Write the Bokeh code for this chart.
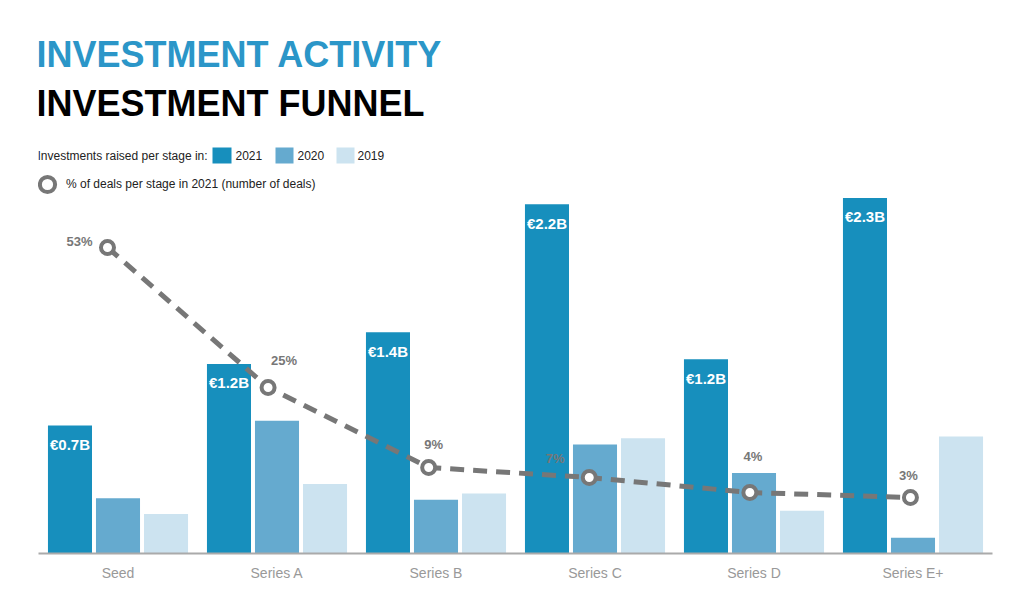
from bokeh.plotting import figure
from bokeh.models import (Range1d, ColumnDataSource, Label, FixedTicker,
                          BoxAnnotation, Legend, LegendItem)
from bokeh.transform import dodge
from bokeh.core.properties import value
from bokeh.embed import file_html
from bokeh.resources import INLINE

# ---------------- data ----------------
stages = ["Seed", "Series A", "Series B", "Series C", "Series D", "Series E+"]
inv_2021 = [0.81, 1.20, 1.40, 2.21, 1.23, 2.25]   # EUR billions
inv_2020 = [0.35, 0.84, 0.34, 0.69, 0.51, 0.10]
inv_2019 = [0.25, 0.44, 0.38, 0.73, 0.27, 0.74]
labels_2021 = ["€0.7B", "€1.2B", "€1.4B", "€2.2B", "€1.2B", "€2.3B"]
deal_share = [53, 25, 9, 7, 4, 3]                  # % of deals in 2021
deal_labels = ["53%", "25%", "9%", "7%", "4%", "3%"]

# label placement (style)
pct_dx = [-28, 16, 5, -34, 3, -2]
pct_dy = [-6, -27, -23, -19, -36, -22]

C21, C20, C19 = "#178fbd", "#65aacf", "#cce3f0"
GREY = "#777777"
FONT = "Liberation Sans"

n = len(stages)
centers = [i + 0.5 for i in range(n)]
src = ColumnDataSource(dict(pos=centers, v2021=inv_2021, v2020=inv_2020,
                            v2019=inv_2019, lab=labels_2021))
lsrc = ColumnDataSource(dict(idx=list(range(n)), share=deal_share,
                             lab=deal_labels, dx=pct_dx, dy=pct_dy))

p = figure(width=1016, height=595,
           x_range=Range1d(0, n), y_range=Range1d(0, 3.449),
           output_backend="svg", toolbar_location=None,
           y_axis_location=None,
           min_border_left=38, min_border_right=24,
           min_border_top=8, min_border_bottom=42)
p.extra_x_ranges = {"lx": Range1d(-0.4296, 5.511)}
p.extra_y_ranges = {"pct": Range1d(-8.2, 100.8)}

p.outline_line_color = None
p.xgrid.visible = False
p.ygrid.visible = False
p.background_fill_color = "white"
p.border_fill_color = "white"

W = 0.277
OFF = 0.302
p.vbar(x=dodge("pos", -OFF), top="v2021", width=W,
       source=src, fill_color=C21, line_color=None)
p.vbar(x=dodge("pos", 0), top="v2020", width=W,
       source=src, fill_color=C20, line_color=None)
p.vbar(x=dodge("pos", OFF), top="v2019", width=W,
       source=src, fill_color=C19, line_color=None)

p.text(x=dodge("pos", -OFF), y="v2021", text="lab",
       source=src, y_offset=19, text_align="center", text_baseline="middle",
       text_color="white", text_font_style="bold", text_font_size="15px",
       text_font=value(FONT))

p.line(x="idx", y="share", source=lsrc, x_range_name="lx", y_range_name="pct",
       line_color=GREY, line_width=5, line_dash="14 9")
pts = p.scatter(x="idx", y="share", source=lsrc, x_range_name="lx",
                y_range_name="pct", size=13, line_width=4,
                fill_color="white", line_color=GREY)
p.text(x="idx", y="share", text="lab", source=lsrc, x_range_name="lx",
       y_range_name="pct", x_offset="dx", y_offset="dy",
       text_align="center", text_baseline="middle", text_color=GREY,
       text_font_style="bold", text_font_size="13px", text_font=value(FONT))

ax = p.xaxis[0]
ax.ticker = FixedTicker(ticks=centers)
ax.major_label_overrides = {c: s for c, s in zip(centers, stages)}
ax.axis_line_color = "#aaaaaa"
ax.axis_line_width = 2
ax.major_tick_line_color = None
ax.minor_tick_line_color = None
ax.major_label_text_color = "#999999"
ax.major_label_text_font_size = "14px"
ax.major_label_text_font = FONT
ax.major_label_standoff = 5

# titles
p.add_layout(Label(x=-2, y=499, x_units="screen", y_units="screen",
                   text="INVESTMENT ACTIVITY", text_font=FONT,
                   text_font_style="bold", text_font_size="36px",
                   text_color="#2b96c8", text_baseline="alphabetic"))
p.add_layout(Label(x=-2, y=450, x_units="screen", y_units="screen",
                   text="INVESTMENT FUNNEL", text_font=FONT,
                   text_font_style="bold", text_font_size="36px",
                   text_color="black", text_baseline="alphabetic"))

# legend row 1
p.add_layout(Label(x=-1, y=398, x_units="screen", y_units="screen",
                   text="Investments raised per stage in:", text_font=FONT,
                   text_font_size="12px", text_color="#222222",
                   text_baseline="middle"))
for (l, r, col, yr, tx) in [(174, 193, C21, "2021", 197),
                            (237, 255, C20, "2020", 259),
                            (298, 316, C19, "2019", 319)]:
    p.add_layout(BoxAnnotation(left=l, right=r, top=406, bottom=390,
                               left_units="screen", right_units="screen",
                               top_units="screen", bottom_units="screen",
                               fill_color=col, fill_alpha=1, line_color=None))
    p.add_layout(Label(x=tx, y=398, x_units="screen", y_units="screen",
                       text=yr, text_font=FONT, text_font_size="12px",
                       text_color="#222222", text_baseline="middle"))

# legend row 2
leg = Legend(items=[LegendItem(label="% of deals per stage in 2021 (number of deals)",
                               renderers=[pts])],
             location=(-10, 350), glyph_width=38, glyph_height=38,
             label_standoff=-3, padding=0, margin=0, border_line_color=None,
             background_fill_alpha=0, label_text_font_size="12px",
             label_text_font=FONT, label_text_color="#222222")
p.add_layout(leg)

open("out.html", "w").write(file_html(p, INLINE))
